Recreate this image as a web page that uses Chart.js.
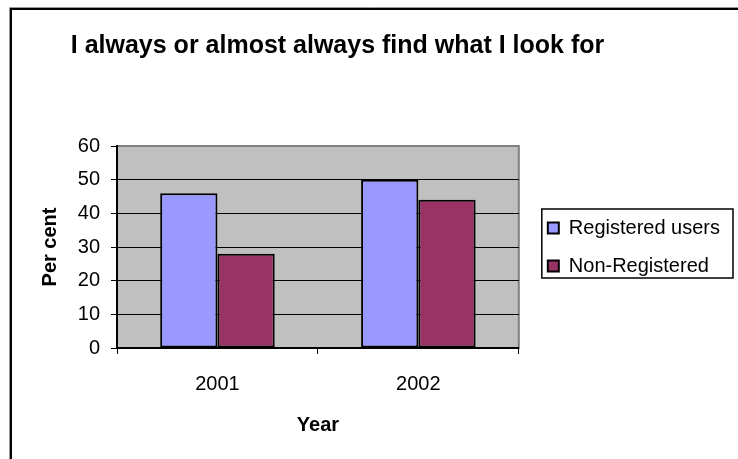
<!DOCTYPE html>
<html>
<head>
<meta charset="utf-8">
<script src="https://cdn.jsdelivr.net/npm/chart.js@4/dist/chart.umd.min.js"></script>
<style>
  html, body { margin: 0; padding: 0; background: #ffffff; }
  #wrap { width: 738px; height: 459px; }
</style>
</head>
<body>
<div id="wrap"><canvas id="c" width="738" height="459"></canvas></div>
<script>
// ---- data ----
const chartTitle = 'I always or almost always find what I look for';
const categories = ['2001', '2002'];
const seriesNames = ['Registered users', 'Non-Registered'];
const registeredUsers = [46, 50];
const nonRegistered = [28, 44];
const yMin = 0;
const yMax = 60;
const yStep = 10;
const xAxisTitle = 'Year';
const yAxisTitle = 'Per cent';

const FONT = "'Liberation Sans', Arial, Helvetica, sans-serif";

const framePlugin = {
  id: 'frame',
  beforeDraw(chart) {
    const ctx = chart.ctx;
    const a = chart.chartArea;
    ctx.save();
    ctx.fillStyle = '#ffffff';
    ctx.fillRect(0, 0, chart.width, chart.height);
    // outer chart border
    ctx.strokeStyle = '#9a9a9a';
    ctx.lineWidth = 1;
    ctx.beginPath();
    ctx.moveTo(9.5, chart.height); ctx.lineTo(9.5, 7.5); ctx.lineTo(chart.width, 7.5);
    ctx.stroke();
    ctx.strokeStyle = '#000000';
    ctx.lineWidth = 2;
    ctx.beginPath();
    ctx.moveTo(11, chart.height); ctx.lineTo(11, 9); ctx.lineTo(chart.width, 9);
    ctx.stroke();
    // plot area
    ctx.fillStyle = '#c0c0c0';
    ctx.fillRect(a.left, a.top, a.right - a.left, a.bottom - a.top);
    ctx.strokeStyle = '#808080';
    ctx.lineWidth = 2;
    ctx.strokeRect(a.left, a.top, a.right - a.left, a.bottom - a.top);
    ctx.restore();
  },
  afterDraw(chart) {
    const lg = chart.legend;
    if (!lg || !lg.legendHitBoxes || !lg.legendHitBoxes.length) return;
    const hb = lg.legendHitBoxes;
    const first = hb[0], last = hb[hb.length - 1];
    const left = first.left - 6;
    const top = first.top - 9;
    const right = chart.width - 5;
    const bottom = last.top + last.height + 2;
    const ctx = chart.ctx;
    ctx.save();
    ctx.strokeStyle = '#000000';
    ctx.lineWidth = 1.5;
    ctx.strokeRect(left, top, right - left, bottom - top);
    ctx.restore();
  }
};

new Chart(document.getElementById('c'), {
  type: 'bar',
  data: {
    labels: categories,
    datasets: [
      {
        label: seriesNames[0],
        data: registeredUsers,
        backgroundColor: '#9999ff',
        borderColor: '#000000',
        borderWidth: 2,
        borderSkipped: false,
        yAxisID: 'y'
      },
      {
        label: seriesNames[1],
        data: nonRegistered,
        backgroundColor: '#993366',
        borderColor: '#000000',
        borderWidth: 2,
        borderSkipped: false,
        yAxisID: 'y'
      }
    ]
  },
  options: {
    responsive: false,
    animation: false,
    devicePixelRatio: 1,
    categoryPercentage: 0.57,
    barPercentage: 1.0,
    layout: { padding: { left: -55, top: 10, right: 8, bottom: 0 } },
    plugins: {
      title: {
        display: true,
        text: chartTitle,
        color: '#000000',
        font: { family: FONT, size: 25, weight: 'bold' },
        padding: { top: 21, bottom: 85 }
      },
      legend: {
        display: true,
        position: 'right',
        fullSize: false,
        align: 'center',
        maxWidth: 400,
        labels: {
          color: '#000000',
          font: { family: FONT, size: 20 },
          boxWidth: 11,
          boxHeight: 11,
          padding: 18
        }
      },
      tooltip: { enabled: false }
    },
    scales: {
      x: {
        grid: {
          display: true,
          drawOnChartArea: false,
          drawTicks: true,
          tickLength: 6,
          color: '#000000',
          lineWidth: 1
        },
        border: { display: true, color: '#000000', width: 1.5 },
        ticks: {
          color: '#000000',
          font: { family: FONT, size: 20 },
          padding: 18,
          maxRotation: 0
        },
        title: {
          display: true,
          text: xAxisTitle,
          color: '#000000',
          font: { family: FONT, size: 20, weight: 'bold' },
          padding: { top: 0, bottom: 22 }
        },
        afterFit(scale) { scale.height = 111; }
      },
      y: {
        min: yMin,
        max: yMax,
        ticks: {
          stepSize: yStep,
          color: '#000000',
          font: { family: FONT, size: 20 },
          padding: 11
        },
        grid: {
          color: (c) => (c.tick && c.tick.value === yMax ? '#808080' : '#000000'),
          tickColor: '#000000',
          lineWidth: 1,
          tickLength: 6
        },
        border: { display: true, color: '#000000', width: 2 },
        title: {
          display: true,
          text: yAxisTitle,
          color: '#000000',
          font: { family: FONT, size: 20, weight: 'bold' },
          padding: { top: 93, bottom: 0 }
        },
        afterFit(scale) { scale.width = 172; }
      },
      gap: {
        type: 'linear',
        position: 'right',
        display: true,
        grid: { display: false },
        border: { display: false },
        ticks: { display: false },
        afterFit(scale) { scale.width = 11; }
      }
    }
  },
  plugins: [framePlugin]
});
</script>
</body>
</html>
